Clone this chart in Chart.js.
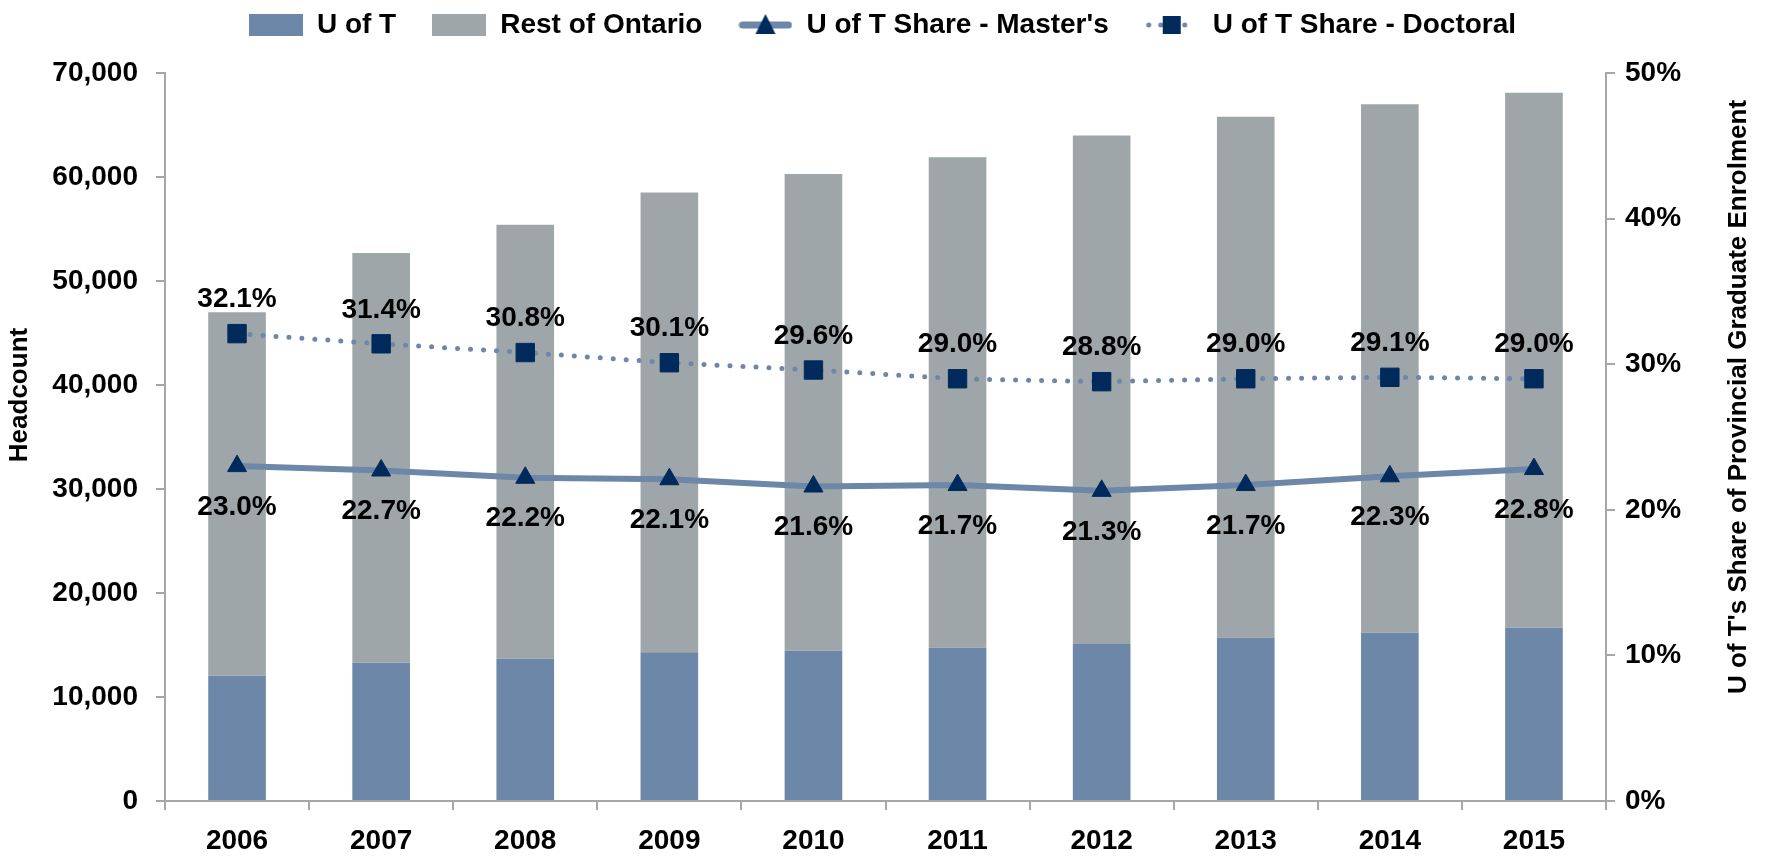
<!DOCTYPE html>
<html>
<head>
<meta charset="utf-8">
<script src="https://cdn.jsdelivr.net/npm/chart.js@4.4.1/dist/chart.umd.min.js"></script>
<style>
  html,body{margin:0;padding:0;background:#fff;}
  #wrap{width:1765px;height:856px;}
</style>
</head>
<body>
<div id="wrap"><canvas id="chart" width="1765" height="856"></canvas></div>
<script>
/* ===== Dados ===== */
const years      = ['2006','2007','2008','2009','2010','2011','2012','2013','2014','2015'];
const uoft       = [12050, 13300, 13680, 14300, 14450, 14740, 15100, 15700, 16180, 16660];
const restOnt    = [34950, 39400, 41720, 44200, 45850, 47160, 48900, 50100, 50820, 51440];
const shareMast  = [23.0, 22.7, 22.2, 22.1, 21.6, 21.7, 21.3, 21.7, 22.3, 22.8];
const shareDoct  = [32.1, 31.4, 30.8, 30.1, 29.6, 29.0, 28.8, 29.0, 29.1, 29.0];
const leftTicks  = [0, 10000, 20000, 30000, 40000, 50000, 60000, 70000];
const rightTicks = [0, 10, 20, 30, 40, 50];

/* ===== Estilo ===== */
const FONT   = "'Liberation Sans Narrow', 'Liberation Sans', Arial, sans-serif";
const C_UOFT = '#6c87a8';
const C_REST = '#9fa6a9';
const C_LINE = '#6c87a8';
const C_MARK = '#002a5c';
const C_AXIS = '#a6a6a6';

/* ===== Ícones da legenda ===== */
function iconBox(color){
  const c = document.createElement('canvas');
  c.width = 54; c.height = 22;
  const g = c.getContext('2d');
  g.fillStyle = color; g.fillRect(0,0,54,22);
  return c;
}
function iconLine(dotted){
  const c = document.createElement('canvas');
  c.width = 54; c.height = 26;
  const g = c.getContext('2d');
  g.strokeStyle = C_LINE; g.lineCap = 'round';
  if (dotted){
    g.lineWidth = 5; g.setLineDash([0,12]);
  } else {
    g.lineWidth = 7;
  }
  g.beginPath(); g.moveTo(4,13); g.lineTo(50,13); g.stroke();
  g.setLineDash([]);
  g.fillStyle = C_MARK;
  if (dotted){
    g.fillRect(18,4,18,18);
  } else {
    g.beginPath(); g.moveTo(27,2); g.lineTo(37,22); g.lineTo(17,22); g.closePath(); g.fill();
  }
  return c;
}
const legendIcons = [iconBox(C_UOFT), iconBox(C_REST), iconLine(false), iconLine(true)];

/* ===== Plugins ===== */
const pointLabels = {
  id:'pointLabels',
  afterDatasetsDraw(chart){
    const ctx = chart.ctx;
    ctx.save();
    ctx.font = "bold 28px " + FONT;
    ctx.fillStyle = '#000';
    ctx.textAlign = 'center';
    ctx.textBaseline = 'middle';
    chart.data.datasets.forEach((ds,i)=>{
      if (ds.type !== 'line') return;
      const meta = chart.getDatasetMeta(i);
      meta.data.forEach((pt,j)=>{
        const dy = ds.labelPos === 'above' ? -34 : 41;
        ctx.fillText(ds.data[j].toFixed(1)+'%', pt.x, pt.y + dy);
      });
    });
    ctx.restore();
  }
};

const axisTitles = {
  id:'axisTitles',
  afterDraw(chart){
    const ctx = chart.ctx;
    const a = chart.chartArea;
    const midY = (a.top + a.bottom)/2 - 42;
    ctx.save();
    ctx.font = "bold 26px " + FONT;
    ctx.fillStyle = '#000';
    ctx.textAlign = 'center';
    ctx.textBaseline = 'middle';
    ctx.translate(20, midY);
    ctx.rotate(-Math.PI/2);
    ctx.fillText('Headcount', 0, 0);
    ctx.restore();

    ctx.save();
    ctx.font = "bold 26px " + FONT;
    ctx.fillStyle = '#000';
    ctx.textAlign = 'center';
    ctx.textBaseline = 'middle';
    ctx.translate(chart.width - 26, midY + 2);
    ctx.rotate(-Math.PI/2);
    ctx.fillText("U of T's Share of Provincial Graduate Enrolment", 0, 0);
    ctx.restore();
  }
};

const legendBox = {
  id:'legendBox',
  beforeInit(chart){
    const orig = chart.legend.fit;
    chart.legend.fit = function(){ orig.call(this); this.height = 73; };
  },
  afterLayout(chart){
    chart.legend.top = -25;  // puxa os itens para cima
  }
};

/* ===== Gráfico ===== */
new Chart(document.getElementById('chart').getContext('2d'), {
  type:'bar',
  data:{
    labels: years,
    datasets:[
      { label:'U of T', data:uoft, backgroundColor:C_UOFT, yAxisID:'y', stack:'s', order:2,
        barPercentage:0.8, categoryPercentage:0.5 },
      { label:'Rest of Ontario', data:restOnt, backgroundColor:C_REST, yAxisID:'y', stack:'s', order:2,
        barPercentage:0.8, categoryPercentage:0.5 },
      { type:'line', label:"U of T Share - Master's", data:shareMast, yAxisID:'y1', order:0,
        borderColor:C_LINE, borderWidth:6, tension:0, labelPos:'below',
        pointStyle:'triangle', pointRadius:11, pointHoverRadius:11,
        pointBackgroundColor:C_MARK, pointBorderColor:C_MARK, pointBorderWidth:1 },
      { type:'line', label:'U of T Share - Doctoral', data:shareDoct, yAxisID:'y1', order:1,
        borderColor:C_LINE, borderWidth:5, borderDash:[0,13], borderCapStyle:'round', tension:0, labelPos:'above',
        pointStyle:'rect', pointRadius:13, pointHoverRadius:13,
        pointBackgroundColor:C_MARK, pointBorderColor:C_MARK, pointBorderWidth:1 }
    ]
  },
  options:{
    responsive:false,
    animation:false,
    layout:{ padding:0 },
    plugins:{
      tooltip:{ enabled:false },
      legend:{
        position:'top',
        labels:{
          usePointStyle:true,
          pointStyleWidth:54,
          boxHeight:22,
          padding:36,
          color:'#000',
          font:{ family:FONT, size:28, weight:'bold' },
          generateLabels(chart){
            return chart.data.datasets.map((ds,i)=>({
              text: ds.label,
              pointStyle: legendIcons[i],
              fillStyle: 'transparent',
              strokeStyle: 'transparent',
              lineWidth: 0,
              hidden: false,
              datasetIndex: i
            }));
          }
        }
      }
    },
    scales:{
      x:{
        stacked:true,
        offset:true,
        grid:{ display:true, drawOnChartArea:false, drawTicks:true, tickLength:9, color:C_AXIS, lineWidth:2, offset:true },
        border:{ display:true, color:C_AXIS, width:2 },
        ticks:{ color:'#000', padding:14, font:{ family:FONT, size:28, weight:'bold' } },
        afterFit(s){ s.height = 55; }
      },
      y:{
        stacked:true,
        position:'left',
        min:0, max:70000,
        afterBuildTicks(s){ s.ticks = leftTicks.map(v=>({value:v})); },
        grid:{ display:true, drawOnChartArea:false, drawTicks:true, tickLength:9, color:C_AXIS, lineWidth:2 },
        border:{ display:true, color:C_AXIS, width:2 },
        ticks:{ color:'#000', padding:18, font:{ family:FONT, size:28, weight:'bold' },
          callback:(v)=> Number(v).toLocaleString('en-US') },
        afterFit(s){ s.width = 165; }
      },
      y1:{
        position:'right',
        min:0, max:50,
        afterBuildTicks(s){ s.ticks = rightTicks.map(v=>({value:v})); },
        grid:{ display:true, drawOnChartArea:false, drawTicks:true, tickLength:9, color:C_AXIS, lineWidth:2 },
        border:{ display:true, color:C_AXIS, width:2 },
        ticks:{ color:'#000', padding:10, font:{ family:FONT, size:28, weight:'bold' },
          callback:(v)=> v+'%' },
        afterFit(s){ s.width = 159; }
      }
    }
  },
  plugins:[pointLabels, axisTitles, legendBox]
});
</script>
</body>
</html>
